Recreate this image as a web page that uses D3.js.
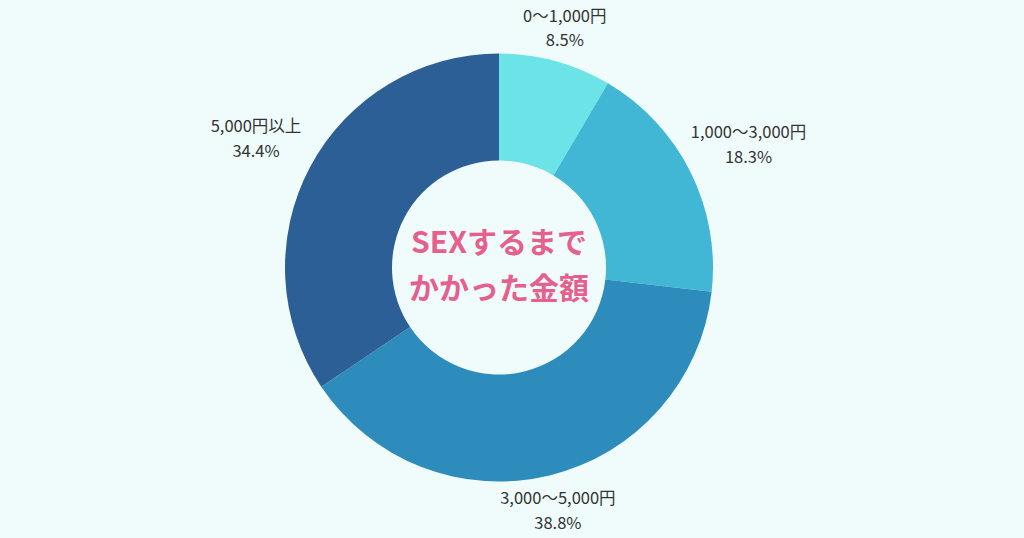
<!DOCTYPE html>
<html><head><meta charset="utf-8">
<script src="https://cdn.jsdelivr.net/npm/d3@7"></script>
<style>
html,body{margin:0;padding:0;background:#f0fcfc;}
svg{display:block;}
text{font-family:"Noto Sans CJK JP","Noto Sans",sans-serif;}
</style></head>
<body>
<svg id="chart" width="1024" height="538"></svg>
<script>
const categories = ["0〜1,000円", "1,000〜3,000円", "3,000〜5,000円", "5,000円以上"];
const values = [8.5, 18.3, 38.8, 34.4];
const colors = ["#6ce3e6", "#42b7d5", "#2d8cbb", "#2c5f95"];
const centerTitle = ["SEXするまで", "かかった金額"];

const W = 1024, H = 538;
const cx = 499, cy = 267.5, outerR = 214, innerR = 107;
const svg = d3.select("#chart");
svg.append("rect").attr("width", W).attr("height", H).attr("fill", "#f0fcfc");

const data = categories.map((c, i) => ({cat: c, value: values[i], color: colors[i]}));
const pie = d3.pie().value(d => d.value).sort(null);
const arcs = pie(data);
const arc = d3.arc().innerRadius(innerR).outerRadius(outerR);

const g = svg.append("g").attr("transform", `translate(${cx},${cy})`);
g.selectAll("path.slice").data(arcs).enter().append("path")
  .attr("class", "slice")
  .attr("d", arc)
  .attr("fill", d => d.data.color);

// labels placed just outside the ring along the slice mid-angle
const labelGap = 10;
arcs.forEach(d => {
  const a = (d.startAngle + d.endAngle) / 2;
  const sx = Math.sin(a), sy = -Math.cos(a);
  const t = g.append("text").attr("text-anchor", "middle")
    .attr("font-size", 16.5).attr("fill", "#333333");
  t.append("tspan").attr("x", 0).attr("dy", "-0.35em").text(d.data.cat);
  t.append("tspan").attr("x", 0).attr("dy", "1.5em").text(d.data.value.toFixed(1) + "%");
  const bb = t.node().getBBox();
  const hw = bb.width / 2, hh = bb.height / 2;
  const bcx = bb.x + hw, bcy = bb.y + hh;
  const edge = Math.min(Math.abs(sx) > 1e-6 ? hw / Math.abs(sx) : Infinity,
                        Math.abs(sy) > 1e-6 ? hh / Math.abs(sy) : Infinity);
  const dist = outerR + labelGap + edge;
  const px = sx * dist, py = sy * dist;
  t.attr("transform", `translate(${px - bcx},${py - bcy})`);
});

// center title
const ct = g.append("text").attr("text-anchor", "middle")
  .attr("font-size", 30).attr("font-weight", 700).attr("fill", "#e5608c");
ct.append("tspan").attr("x", 0).attr("y", -15).text(centerTitle[0]);
ct.append("tspan").attr("x", 0).attr("y", 31).text(centerTitle[1]);
</script>
</body></html>
